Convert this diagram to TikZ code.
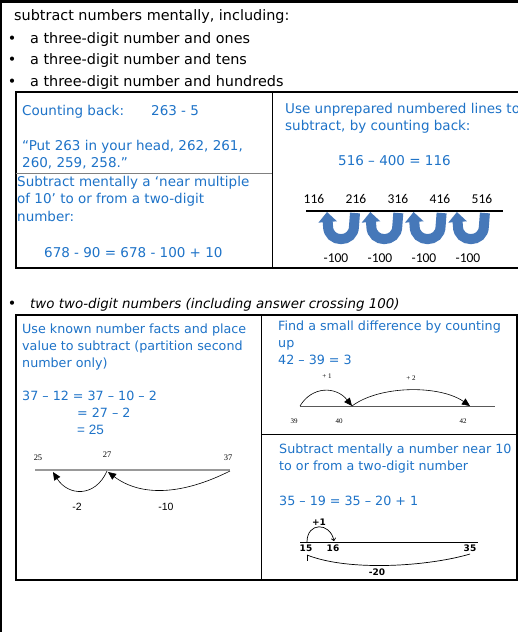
\documentclass[tikz,border=0pt]{standalone}
\usepackage{fontspec}
\setmainfont{DejaVu Sans}
\newfontfamily\calfont{Carlito}
\newfontfamily\serfont{Liberation Serif}
\newfontfamily\arfont{Liberation Sans}
\usetikzlibrary{arrows.meta}
\definecolor{tblue}{RGB}{30,115,200}
\definecolor{ublue}{RGB}{70,120,185}
\begin{document}
\begin{tikzpicture}[x=1pt,y=-1pt,
  every node/.style={inner sep=0pt, anchor=base west},
  ttl/.style={font=\fontsize{14.4}{17}\selectfont},
  cell/.style={font=\fontsize{13.5}{17}\selectfont, text=tblue},
  cellsm/.style={font=\fontsize{12.7}{17}\selectfont, text=tblue},
  numc/.style={font=\calfont\fontsize{13.5}{16}\selectfont, anchor=base},
  tiny/.style={font=\serfont\fontsize{8.5}{10}\selectfont, anchor=base},
  tinier/.style={font=\serfont\fontsize{7}{8}\selectfont, anchor=base},
  arl/.style={font=\arfont\fontsize{10.5}{12}\selectfont, anchor=base},
  boldl/.style={font=\bfseries\fontsize{9}{10}\selectfont, anchor=base},
  thick frame/.style={line width=2pt, line cap=rect},
  thin frame/.style={line width=0.8pt},
  ubar/.style={line width=10pt, color=ublue, -{Triangle[width=18pt,length=10pt]}},
  jump/.style={line width=0.6pt, -{Triangle[width=7pt,length=8pt]}},
]
\useasboundingbox (0,0) rectangle (518,632);
\fill[white] (0,0) rectangle (518,632);
% outer frame
\draw[line width=3pt] (0,1.5) -- (518,1.5);
\draw[line width=1.5pt] (1,0) -- (1,632);
% title
\node[ttl] (t0) at (14,20) {subtract numbers mentally, including:};
\foreach \y/\t [count=\k] in {43/ones, 64/tens, 86/hundreds}{
  \node[ttl, anchor=base] (b\k) at (12,\y) {\textbullet};
  \node[ttl] (l\k) at (30,\y) {a three-digit number and \t};
}
% top box
\draw[thick frame] (518,92) -- (16,92) -- (16,268) -- (518,268);
\draw[thin frame] (272,92) -- (272,268);
\draw[thin frame, gray] (16,173) -- (272,173);
% top-left
\node[cell] (cb) at (22,115) {Counting back:};
\node[cell] (cb2) at (151,115) {263 - 5};
\node[cell] (q1) at (22,150) {“Put 263 in your head, 262, 261,};
\node[cell] (q2) at (22,167) {260, 259, 258.”};
\node[cell] (s1) at (17,186) {Subtract mentally a ‘near multiple};
\node[cell] (s2) at (17,203) {of 10’ to or from a two-digit};
\node[cell] (s3) at (17,221) {number:};
\node[cell] (s4) at (44,257) {678 - 90 = 678 - 100 + 10};
% top-right
\node[cell] (u1) at (285,113) {Use unprepared numbered lines to};
\node[cell] (u2) at (285,130) {subtract, by counting back:};
\node[cell] (u3) at (338,165) {516 – 400 = 116};
\foreach \x/\v [count=\k] in {314/116, 356/216, 398/316, 440/416, 482/516}
  \node[numc] (n\k) at (\x,203) {\v};
\coordinate (nlA) at (306,211);
\coordinate (nlB) at (503,211);
\draw[line width=1.3pt] (nlA) -- (nlB);
\foreach \i in {0,1,2,3}{
  \begin{scope}[xshift=43.3*\i pt]
    \draw[ubar] (355,213) -- (354,226) .. controls (354,243.5) and (328,243.5) .. (328,226) -- (327,212);
  \end{scope}
}
\foreach \x [count=\k] in {336,380,424,468}
  \node[numc] (m\k) at (\x,262) {-100};
% second bullet
\node[ttl, anchor=base] (b4) at (12,308) {\textbullet};
\node[ttl, font=\itshape\fontsize{13.4}{17}\selectfont] (l4) at (30,308) {two two-digit numbers (including answer crossing 100)};
% lower box
\draw[thick frame] (16,315) rectangle (517,580);
\draw[thin frame] (261,315) -- (261,580);
\draw[thin frame] (261,434) -- (517,434);
% lower-left
\node[cellsm] (k1) at (22,333) {Use known number facts and place};
\node[cellsm] (k2) at (22,350) {value to subtract (partition second};
\node[cellsm] (k3) at (22,367) {number only)};
\node[cellsm] (k4) at (22,400) {37 – 12 = 37 – 10 – 2};
\node[cellsm] (k5) at (77,417) {= 27 – 2};
\node[cellsm, font=\arfont\fontsize{13.5}{16}\selectfont] (k6) at (77,434) {= 25};
\coordinate (a25) at (35,470);
\coordinate (a37) at (230,470);
\draw[line width=2pt, gray!80] (a25) -- (a37);
\node[tiny] (x25) at (38,460) {25};
\node[tiny] (x27) at (107,457) {27};
\node[tiny] (x37) at (228,460) {37};
\coordinate (p27) at (107,471);
\coordinate (p25) at (53,472);
\coordinate (p37) at (230,471);
\coordinate (p27b) at (108,472);
\draw[jump] (p27) .. controls (95,498) and (68,496) .. (p25);
\draw[jump] (p37) .. controls (180,496) and (140,496) .. (p27b);
\node[arl] (d2) at (77,510) {-2};
\node[arl] (d10) at (166,510) {-10};
% lower-right top
\node[cellsm] (f1) at (278,330) {Find a small difference by counting};
\node[cellsm] (f2) at (278,347) {up};
\node[cellsm] (f3) at (278,364) {42 – 39 = 3};
\node[tinier] (pl1) at (327,378) {+ 1};
\node[tinier] (pl2) at (411,380) {+ 2};
\coordinate (r39) at (300,406);
\coordinate (rEnd) at (495,406);
\coordinate (r40) at (352,406);
\coordinate (r42) at (470,406);
\draw[line width=0.9pt, gray!70!black] (r39) -- (rEnd);
\draw[jump] (r39) .. controls (312,386) and (336,386) .. (r40);
\draw[jump] (r40) .. controls (380,385) and (440,385) .. (r42);
\node[tinier] (y39) at (294,423) {39};
\node[tinier] (y40) at (339,423) {40};
\node[tinier] (y42) at (463,423) {42};
% lower-right bottom
\node[cellsm] (g1) at (279,453) {Subtract mentally a number near 10};
\node[cellsm] (g2) at (279,470) {to or from a two-digit number};
\node[cellsm] (g3) at (279,505) {35 – 19 = 35 – 20 + 1};
\node[boldl] (pp1) at (319,525) {+1};
\coordinate (s15) at (300,542);
\coordinate (sEnd) at (478,542);
\draw[line width=0.9pt] (s15) -- (sEnd);
\coordinate (q15) at (307,542);
\coordinate (q16) at (334,541);
\draw[line width=0.7pt, -{To[length=3pt,width=5pt]}] (q15) .. controls (307,522) and (330,522) .. (q16);
\node[boldl] (z15) at (306,551) {15};
\node[boldl] (z16) at (333,551) {16};
\node[boldl] (z35) at (470,551) {35};
\coordinate (w35) at (470,554);
\coordinate (w15) at (307,555);
\draw[line width=0.7pt] (w35) .. controls (430,566) and (350,572) .. (w15);
\draw[line width=0.7pt] (w15) -- ++(0,6);
\node[boldl] (mm20) at (377,575) {-20};
\end{tikzpicture}
\end{document}
